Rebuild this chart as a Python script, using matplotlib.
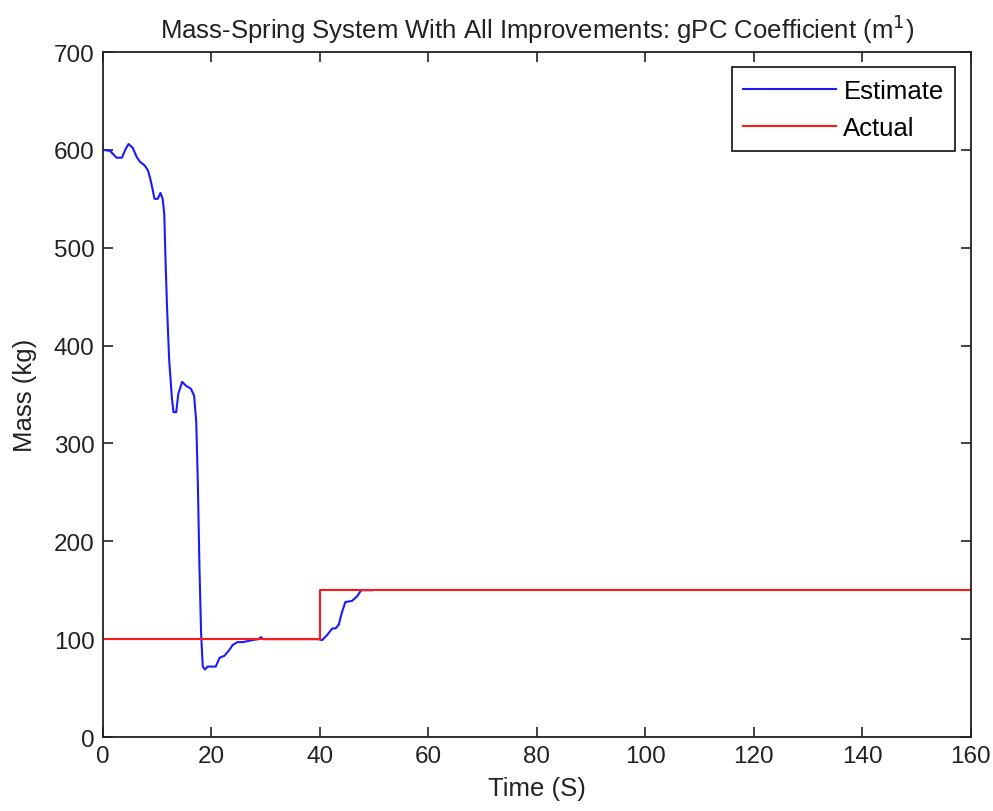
import matplotlib
matplotlib.use("Agg")
import matplotlib.pyplot as plt

plt.rcParams['font.family'] = ['Liberation Sans', 'DejaVu Sans']

# estimated mass (gPC coefficient m^1)
est_time = [0, 1.3, 2.5, 3.5, 4.1, 4.7, 5.5, 6.2, 6.8, 7.7, 8.3, 8.7, 9.1, 9.5, 10.1,
            10.6, 11.0, 11.3, 11.5, 11.8, 12.2, 12.7, 13.0, 13.5, 13.9, 14.6, 15.3,
            16.2, 16.8, 17.2, 17.5, 17.8, 18.1, 18.4, 18.8, 19.3, 20.8, 21.5, 22.4,
            23.3, 23.9, 24.8, 25.8, 27.5, 28.6, 29.1, 29.6, 30.2, 35, 39.7, 40.4,
            41.3, 42.3, 42.9, 43.5, 43.8, 44.1, 44.7, 45.9, 46.9, 47.6, 49.6]
est_mass = [600, 599, 592, 592, 600, 606, 602, 593, 588, 584, 579, 571, 561, 550, 550,
            556, 550, 535, 494, 441, 386, 347, 332, 332, 351, 363, 359,
            356, 349, 322, 258, 171, 105, 72, 69, 72, 72, 81, 83,
            89, 94, 97, 97, 99, 100, 102, 100, 100, 100, 100, 99,
            104, 111, 111, 115, 122, 128, 138, 139, 144, 150, 150]

# true mass: step change at t = 40 s
act_time = [0, 40, 40, 160]
act_mass = [100, 100, 150, 150]

fig = plt.figure(figsize=(9.93, 8.12), dpi=100)
ax = fig.add_axes([0.1037, 0.0911, 0.9775 - 0.1037, 0.9347 - 0.0911])

ax.plot(est_time, est_mass, color=(0.1, 0.1, 1.0), lw=1.5, label='Estimate')
ax.plot(act_time, act_mass, color=(1.0, 0.1, 0.1), lw=1.5, label='Actual')

ax.set_xlim(0, 160)
ax.set_ylim(0, 700)
ax.set_xticks(range(0, 161, 20))
ax.set_yticks(range(0, 701, 100))
ax.tick_params(direction='in', length=7, width=1.2, top=True, right=True,
               labelsize=17.5, colors='#222222', pad=6)
for s in ax.spines.values():
    s.set_linewidth(1.3)
    s.set_color('#222222')

ax.set_xlabel('Time (S)', fontsize=18.5, color='#222222', labelpad=6)
ax.set_ylabel('Mass (kg)', fontsize=18.5, color='#222222', labelpad=12)
ax.set_title('Mass-Spring System With All Improvements: gPC Coefficient (m$^1$)',
             fontsize=18.5, color='#222222', pad=10)

leg = ax.legend(loc='upper right', fontsize=18.5, fancybox=False, framealpha=1,
                edgecolor='#222222', handlelength=3.6, handletextpad=0.3,
                borderpad=0.45, labelspacing=0.5, borderaxespad=0.6)
leg.get_frame().set_linewidth(1.3)

fig.savefig('out.png', dpi=100)
